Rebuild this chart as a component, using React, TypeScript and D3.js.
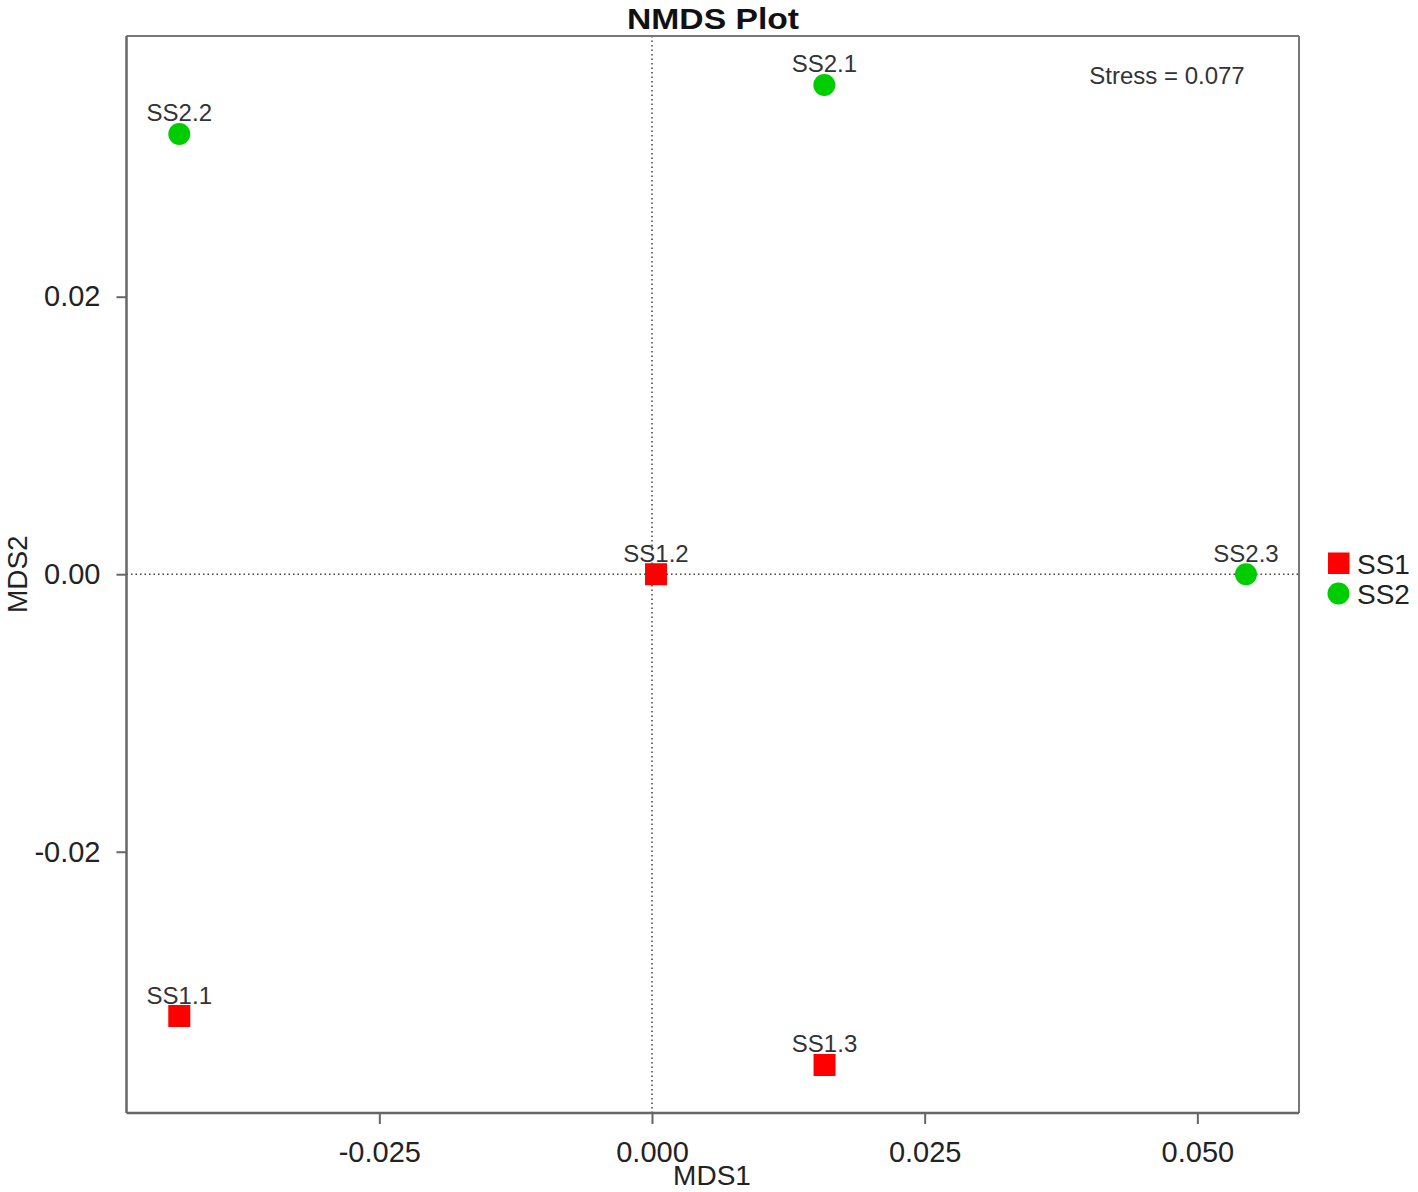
import React, { useEffect, useRef } from "react";
import * as d3 from "d3";

const sampleNames = ["SS1.1", "SS1.2", "SS1.3", "SS2.1", "SS2.2", "SS2.3"];
const sampleGroups = ["SS1", "SS1", "SS1", "SS2", "SS2", "SS2"];
const mds1 = [-0.04334, 0.00037, 0.01582, 0.0158, -0.04334, 0.05446];
const mds2 = [-0.03184, 0.0, -0.03537, 0.03526, 0.03173, 0.0];
const xTicks = [-0.025, 0.0, 0.025, 0.05];
const yTicks = [-0.02, 0.0, 0.02];
const groups = ["SS1", "SS2"];
const groupColors = ["#FF0000", "#00CD00"];
const stressText = "Stress = 0.077";

const W = 1418;
const H = 1192;
const FONT = "'Liberation Sans', Arial, sans-serif";

export default function App() {
  const ref = useRef<SVGSVGElement>(null);
  useEffect(() => {
    const svg = d3.select(ref.current);
    svg.selectAll("*").remove();
    const L = 126.5, R = 1299, T = 36, B = 1113;
    const x = d3.scaleLinear().domain([-0.04818, 0.05932]).range([L, R]);
    const y = d3.scaleLinear().domain([-0.03883, 0.03879]).range([B, T]);
    const color = d3.scaleOrdinal<string, string>().domain(groups).range(groupColors);
    const fmtX = (d: number) => d3.format(".3f")(d).replace("\u2212", "-");
    const fmtY = (d: number) => d3.format(".2f")(d).replace("\u2212", "-");

    svg.append("rect").attr("width", W).attr("height", H).attr("fill", "#fff");

    // dotted zero lines
    svg.append("line").attr("x1", x(0)).attr("x2", x(0)).attr("y1", T).attr("y2", B)
      .attr("stroke", "#444").attr("stroke-width", 1.5).attr("stroke-dasharray", "1.5,3");
    svg.append("line").attr("x1", L).attr("x2", R).attr("y1", y(0)).attr("y2", y(0))
      .attr("stroke", "#444").attr("stroke-width", 1.5).attr("stroke-dasharray", "1.5,3");

    // frame
    svg.append("line").attr("x1", L).attr("x2", R).attr("y1", T).attr("y2", T).attr("stroke", "#777").attr("stroke-width", 2);
    svg.append("line").attr("x1", R).attr("x2", R).attr("y1", T).attr("y2", B).attr("stroke", "#777").attr("stroke-width", 2);

    // axes
    const xAxis = svg.append("g").attr("transform", `translate(0,${B})`)
      .call(d3.axisBottom(x).tickValues(xTicks).tickFormat(fmtX as any).tickSize(11).tickPadding(17));
    const yAxis = svg.append("g").attr("transform", `translate(${L},0)`)
      .call(d3.axisLeft(y).tickValues(yTicks).tickFormat(fmtY as any).tickSize(10).tickPadding(16));
    [xAxis, yAxis].forEach((g) => {
      g.select(".domain").attr("stroke", "#666").attr("stroke-width", 2.5);
      g.selectAll(".tick line").attr("stroke", "#666").attr("stroke-width", 2);
      g.selectAll(".tick text").attr("fill", "#222").attr("font-family", FONT).attr("font-size", 29);
    });
    yAxis.select(".domain").attr("d", `M0,${T}V${B}`);
    xAxis.select(".domain").attr("d", `M${L},0H${R}`);

    // points
    const data = sampleNames.map((n, i) => ({ n, g: sampleGroups[i], x: mds1[i], y: mds2[i] }));
    const pts = svg.append("g");
    data.forEach((d) => {
      const cx = x(d.x), cy = y(d.y);
      if (d.g === "SS1") {
        pts.append("rect").attr("x", cx - 11).attr("y", cy - 11).attr("width", 22).attr("height", 22).attr("fill", color(d.g));
      } else {
        pts.append("circle").attr("cx", cx).attr("cy", cy).attr("r", 11).attr("fill", color(d.g));
      }
      pts.append("text").attr("x", cx).attr("y", cy - 12.5).attr("text-anchor", "middle")
        .attr("font-family", FONT).attr("font-size", 24).attr("fill", "#333").text(d.n);
    });

    // stress
    svg.append("text").attr("x", 1167).attr("y", 84).attr("text-anchor", "middle")
      .attr("font-family", FONT).attr("font-size", 24).attr("fill", "#333").text(stressText);

    // title
    svg.append("text").attr("x", 713).attr("y", 28.5).attr("text-anchor", "middle")
      .attr("font-family", FONT).attr("font-size", 30).attr("font-weight", "bold").attr("fill", "#111")
      .attr("textLength", 172).attr("lengthAdjust", "spacingAndGlyphs").text("NMDS Plot");

    // axis titles
    svg.append("text").attr("x", 712).attr("y", 1185).attr("text-anchor", "middle")
      .attr("font-family", FONT).attr("font-size", 28).attr("fill", "#222").text("MDS1");
    svg.append("text").attr("transform", `translate(27,${y(0)}) rotate(-90)`).attr("text-anchor", "middle")
      .attr("font-family", FONT).attr("font-size", 28).attr("fill", "#222").text("MDS2");

    // legend
    const lg = svg.append("g");
    groups.forEach((g, i) => {
      const cy = 563.5 + i * 30;
      if (i === 0) {
        lg.append("rect").attr("x", 1328).attr("y", cy - 11).attr("width", 21.5).attr("height", 21.5).attr("fill", color(g));
      } else {
        lg.append("circle").attr("cx", 1338.5).attr("cy", cy).attr("r", 11).attr("fill", color(g));
      }
      lg.append("text").attr("x", 1357).attr("y", cy + 10.5).attr("font-family", FONT).attr("font-size", 28)
        .attr("fill", "#222").text(g);
    });
  }, []);
  return (
    <svg ref={ref} width={W} height={H} style={{ position: "absolute", left: 0, top: 0 }} />
  );
}
